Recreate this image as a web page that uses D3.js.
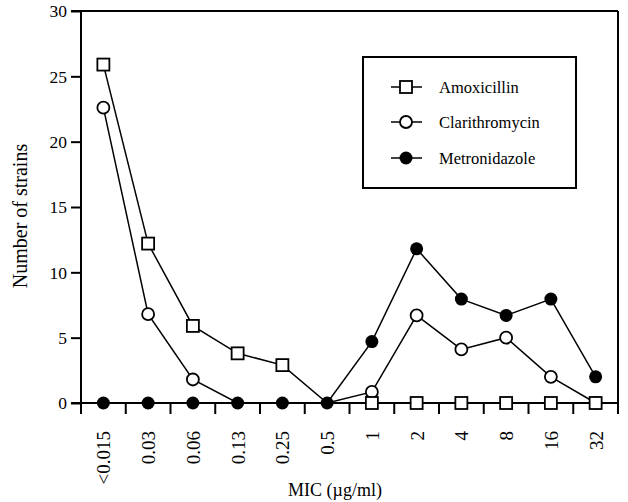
<!DOCTYPE html>
<html><head><meta charset="utf-8">
<script src="https://cdn.jsdelivr.net/npm/d3@7"></script>
<style>
html,body{margin:0;padding:0;background:#fff;}
svg text{font-family:"Liberation Serif","Times New Roman",serif;fill:#000;}
</style></head>
<body><svg id="chart" width="628" height="502"></svg>
<script>
const categories = ["<0.015","0.03","0.06","0.13","0.25","0.5","1","2","4","8","16","32"];
const amoxicillin    = [25.9, 12.2, 5.9, 3.8, 2.9, 0, 0, 0, 0, 0, 0, 0];
const clarithromycin = [22.6, 6.8, 1.8, 0, 0, 0, 0.85, 6.7, 4.1, 5.0, 2.0, 0];
const metronidazole  = [0, 0, 0, 0, 0, 0, 4.7, 11.8, 7.95, 6.7, 7.95, 2.0];
const yTicks = [0, 5, 10, 15, 20, 25, 30];
const seriesNames = ["Amoxicillin", "Clarithromycin", "Metronidazole"];

const svg = d3.select("#chart");
const L = 81, R = 618, T = 11, B = 403;
const x = d3.scalePoint().domain(categories).range([L, R]).padding(0.5);
const y = d3.scaleLinear().domain([0, 30]).range([B, T]);
const step = x.step();

// frame / axes
const ax = svg.append("g").attr("stroke", "#000").attr("stroke-width", 2).attr("fill", "none");
ax.append("line").attr("x1", L).attr("x2", L).attr("y1", T).attr("y2", B + 11);
ax.append("line").attr("x1", R).attr("x2", R).attr("y1", T).attr("y2", B + 11);
ax.append("line").attr("x1", L - 10).attr("x2", R).attr("y1", T).attr("y2", T);
ax.append("line").attr("x1", L - 10).attr("x2", R).attr("y1", B).attr("y2", B);

// y axis ticks & labels
const yAxis = d3.axisLeft(y).tickValues(yTicks).tickSize(10).tickPadding(4).tickFormat(d3.format("d"));
const gy = svg.append("g").attr("transform", `translate(${L},0)`).call(yAxis);
gy.select(".domain").remove();
gy.selectAll(".tick line").attr("stroke", "#000").attr("stroke-width", 2);
gy.selectAll(".tick text").attr("font-size", 17.5).attr("dy", "0.34em");

// x minor ticks at category boundaries
const bounds = categories.slice(1).map(c => x(c) - step / 2);
svg.append("g").selectAll("line").data(bounds).join("line")
  .attr("x1", d => d).attr("x2", d => d).attr("y1", B).attr("y2", B + 11)
  .attr("stroke", "#000").attr("stroke-width", 2);

// x labels (rotated)
svg.append("g").selectAll("text").data(categories).join("text")
  .attr("transform", d => `translate(${x(d) + 7},431) rotate(-90)`)
  .attr("text-anchor", "end").attr("font-size", 19).text(d => d);

// axis titles
svg.append("text").attr("x", 335).attr("y", 496).attr("text-anchor", "middle")
  .attr("font-size", 18).text("MIC (\u00b5g/ml)");
svg.append("text").attr("transform", "translate(27,216) rotate(-90)").attr("text-anchor", "middle")
  .attr("font-size", 20).text("Number of strains");

// lines
const line = d3.line().x((d, i) => x(categories[i])).y(d => y(d));
const allSeries = [clarithromycin, amoxicillin, metronidazole];
svg.append("g").selectAll("path").data(allSeries).join("path")
  .attr("d", d => line(d)).attr("fill", "none").attr("stroke", "#000").attr("stroke-width", 1.5);

// markers
const pts = arr => arr.map((v, i) => ({v, i}));
const hidden = (arr) => pts(arr).filter(p => metronidazole[p.i] !== p.v);
svg.append("g").selectAll("circle").data(hidden(clarithromycin)).join("circle")
  .attr("cx", p => x(categories[p.i])).attr("cy", p => y(p.v)).attr("r", 6)
  .attr("fill", "#fff").attr("stroke", "#000").attr("stroke-width", 1.8);
svg.append("g").selectAll("rect").data(hidden(amoxicillin)).join("rect")
  .attr("x", p => x(categories[p.i]) - 6).attr("y", p => y(p.v) - 6).attr("width", 12).attr("height", 12)
  .attr("fill", "#fff").attr("stroke", "#000").attr("stroke-width", 1.8);
svg.append("g").selectAll("circle").data(pts(metronidazole)).join("circle")
  .attr("cx", p => x(categories[p.i])).attr("cy", p => y(p.v)).attr("r", 6.5)
  .attr("fill", "#000");

// legend
const lg = svg.append("g");
lg.append("rect").attr("x", 363).attr("y", 57).attr("width", 213).attr("height", 131)
  .attr("fill", "#fff").attr("stroke", "#000").attr("stroke-width", 2);
const rowsY = [87, 122, 158];
seriesNames.forEach((name, k) => {
  const cy = rowsY[k];
  lg.append("line").attr("x1", 391).attr("x2", 422).attr("y1", cy).attr("y2", cy)
    .attr("stroke", "#000").attr("stroke-width", 1.5);
  if (k === 0) {
    lg.append("rect").attr("x", 400).attr("y", cy - 6).attr("width", 12).attr("height", 12)
      .attr("fill", "#fff").attr("stroke", "#000").attr("stroke-width", 1.8);
  } else if (k === 1) {
    lg.append("circle").attr("cx", 406).attr("cy", cy).attr("r", 6)
      .attr("fill", "#fff").attr("stroke", "#000").attr("stroke-width", 1.8);
  } else {
    lg.append("circle").attr("cx", 406).attr("cy", cy).attr("r", 6.5).attr("fill", "#000");
  }
  lg.append("text").attr("x", 439).attr("y", cy + 5.5).attr("font-size", 16.5).text(name);
});
</script></body></html>
